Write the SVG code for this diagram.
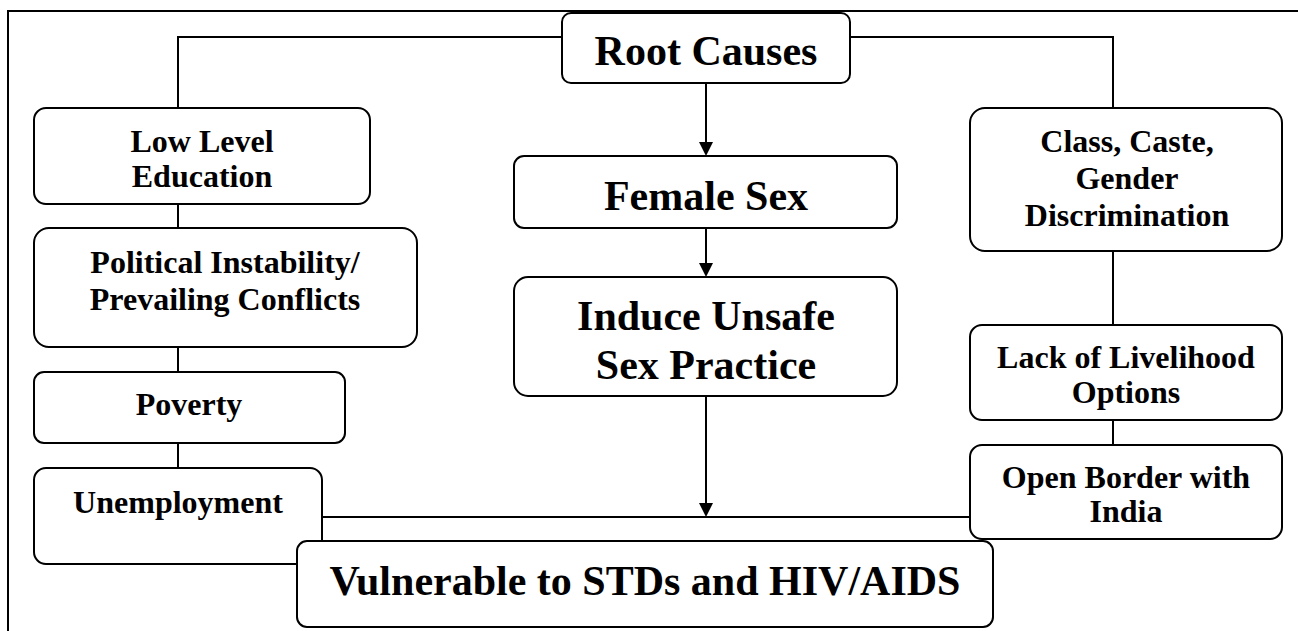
<svg xmlns="http://www.w3.org/2000/svg" width="1298" height="631" viewBox="0 0 1298 631">
<style>
.box{fill:#fff;stroke:#000;stroke-width:2}
.ln{fill:none;stroke:#000;stroke-width:2}
.s{font-family:"Liberation Serif","Times New Roman",serif;font-weight:bold;font-size:32px;text-anchor:middle;fill:#000}
.b{font-family:"Liberation Serif","Times New Roman",serif;font-weight:bold;font-size:42px;text-anchor:middle;fill:#000}
</style>
<defs>
<marker id="ah" markerUnits="userSpaceOnUse" markerWidth="16" markerHeight="16" viewBox="0 0 16 16" refX="8" refY="15" orient="auto-start-reverse">
<path d="M1,1 L15,1 L8,15 Z" fill="#000" transform="rotate(0)"/>
</marker>
</defs>
<rect width="1298" height="631" fill="#fff"/>
<path class="ln" d="M8,631 V11 H1298"/>
<g id="connectors">
<path class="ln" d="M178,108 V37 H562"/>
<path class="ln" d="M850,37 H1113 V108"/>
<path class="ln" d="M178,204 V228"/>
<path class="ln" d="M178,347 V372"/>
<path class="ln" d="M178,443 V468"/>
<path class="ln" d="M1113,251 V325"/>
<path class="ln" d="M1113,420 V445"/>
<path class="ln" d="M322,517 H970"/>
<line x1="706" y1="83" x2="706" y2="142" class="ln"/>
<path d="M699,142 L713,142 L706,156 Z" fill="#000"/>
<line x1="706" y1="228" x2="706" y2="263" class="ln"/>
<path d="M699,263 L713,263 L706,277 Z" fill="#000"/>
<line x1="706" y1="396" x2="706" y2="503" class="ln"/>
<path d="M699,503 L713,503 L706,517 Z" fill="#000"/>
</g>
<g id="root">
<rect class="box" x="562" y="13" width="288" height="70" rx="9"/>
<text class="b" x="706" y="65">Root Causes</text>
</g>
<g id="female">
<rect class="box" x="514" y="156" width="383" height="72" rx="10"/>
<text class="b" x="706" y="210">Female Sex</text>
</g>
<g id="induce">
<rect class="box" x="514" y="277" width="383" height="119" rx="14"/>
<text class="b" x="706" y="330">Induce Unsafe</text>
<text class="b" x="706" y="379">Sex Practice</text>
</g>
<g id="education">
<rect class="box" x="34" y="108" width="336" height="96" rx="12"/>
<text class="s" x="202" y="152">Low Level</text>
<text class="s" x="202" y="187">Education</text>
</g>
<g id="political">
<rect class="box" x="34" y="228" width="383" height="119" rx="15"/>
<text class="s" x="225" y="273">Political Instability/</text>
<text class="s" x="225" y="310">Prevailing Conflicts</text>
</g>
<g id="poverty">
<rect class="box" x="34" y="372" width="311" height="71" rx="10"/>
<text class="s" x="189" y="415">Poverty</text>
</g>
<g id="unemployment">
<rect class="box" x="34" y="468" width="288" height="96" rx="12"/>
<text class="s" x="178" y="513">Unemployment</text>
</g>
<g id="class">
<rect class="box" x="970" y="108" width="312" height="143" rx="15"/>
<text class="s" x="1127" y="152">Class, Caste,</text>
<text class="s" x="1127" y="189">Gender</text>
<text class="s" x="1127" y="226">Discrimination</text>
</g>
<g id="livelihood">
<rect class="box" x="970" y="325" width="312" height="95" rx="12"/>
<text class="s" x="1126" y="368">Lack of Livelihood</text>
<text class="s" x="1126" y="403">Options</text>
</g>
<g id="border">
<rect class="box" x="970" y="445" width="312" height="94" rx="12"/>
<text class="s" x="1126" y="488">Open Border with</text>
<text class="s" x="1126" y="522">India</text>
</g>
<g id="vulnerable">
<rect class="box" x="297" y="541" width="696" height="86" rx="10"/>
<text class="b" x="645" y="595">Vulnerable to STDs and HIV/AIDS</text>
</g>
</svg>
